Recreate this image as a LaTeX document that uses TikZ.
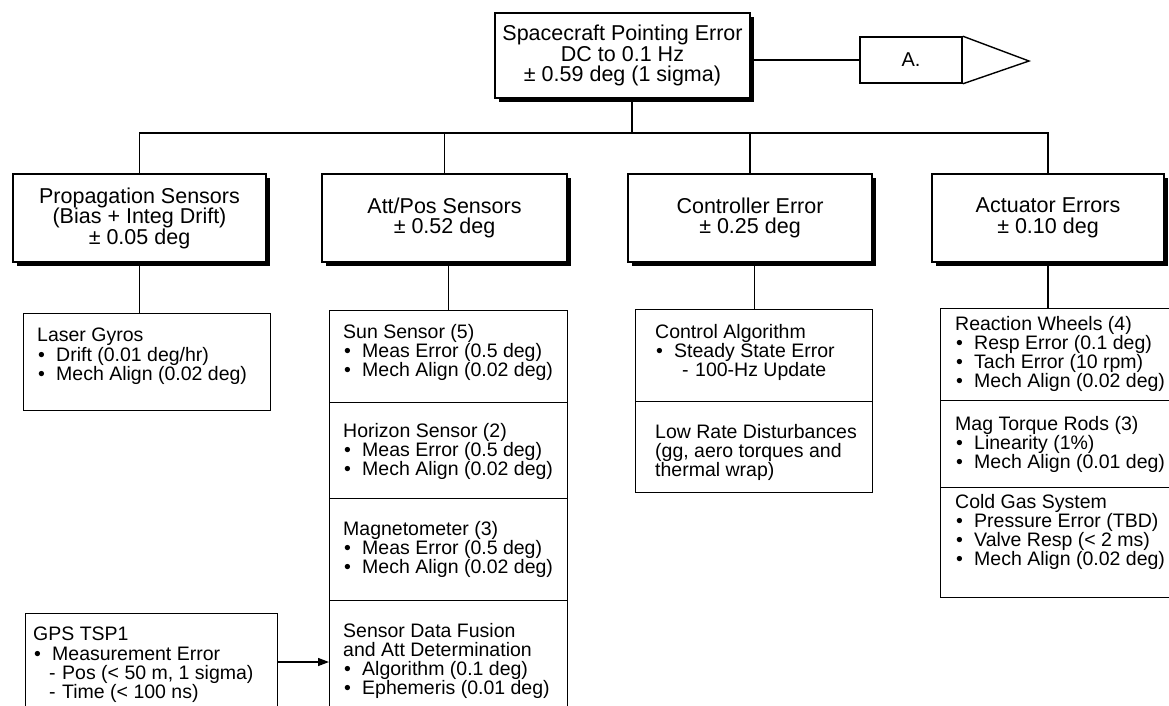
\documentclass[tikz,border=0pt]{standalone}
\usepackage{fontspec}
\setmainfont{Liberation Sans}
\usetikzlibrary{shadows,arrows.meta}
% list helpers: bullet item and dashed sub-item
\newcommand{\bi}[1]{\makebox[19pt][l]{\hspace{1pt}•}#1}
\newcommand{\di}[2]{\hspace{#1}\makebox[13pt][l]{-}#2}
\begin{document}
\begin{tikzpicture}[x=1pt,y=-1pt,
  hdr/.style={draw, line width=1.7pt, fill=white, inner sep=0pt, align=center,
    font=\fontsize{21.5}{20.5}\selectfont,
    drop shadow={shadow xshift=3.5pt, shadow yshift=-3.5pt, fill=black, opacity=1}},
  sect/.style={draw, line width=1.4pt, inner sep=0pt, anchor=north west},
  txt/.style={anchor=north west, inner sep=0pt, align=left,
    font=\fontsize{19.5}{19.2}\selectfont},
  wire/.style={line width=1.3pt},
]
\useasboundingbox (0,0) rectangle (1169,705);

% top level
\node[hdr, minimum width=255pt, minimum height=85pt] (T) at (622.5,55.5)
  {Spacecraft Pointing Error\\DC to 0.1 Hz\\± 0.59 deg (1 sigma)};
\node[draw, line width=1.6pt, minimum width=102pt, minimum height=46pt, inner sep=0pt,
  font=\fontsize{20}{20}\selectfont] (A) at (911,60) {A.};
\coordinate (Atip) at (1029,61);
\draw[line width=1.4pt, line join=miter] (A.north east) -- (Atip) -- (A.south east);
\draw[wire] (T.east |- A.west) -- (A.west);

% second level
\node[hdr, minimum width=253pt, minimum height=88pt] (P) at (139.5,218)
  {Propagation Sensors\\(Bias + Integ Drift)\\± 0.05 deg};
\node[hdr, minimum width=245pt, minimum height=88pt] (S) at (444.5,218)
  {Att/Pos Sensors\\± 0.52 deg};
\node[hdr, minimum width=244pt, minimum height=88pt] (C) at (750,218)
  {Controller Error\\± 0.25 deg};
\node[hdr, minimum width=232pt, minimum height=88pt] (R) at (1048,218)
  {Actuator Errors\\± 0.10 deg};

% distribution bus
\coordinate (bus) at (632,133);
\draw[wire] (T.south -| bus) -- (bus);
\draw[wire] (P.north) -- (P.north |- bus) -- (R.north |- bus) -- (R.north);
\draw[wire] (S.north |- bus) -- (S.north);
\draw[wire] (C.north |- bus) -- (C.north);

% propagation sensors
\node[sect, minimum width=247pt, minimum height=97pt] (LG) at (23,313) {};
\node[txt] at (37,328) {Laser Gyros\\\bi{Drift (0.01 deg/hr)}\\\bi{Mech Align (0.02 deg)}};

% attitude / position sensors
\node[sect, minimum width=238pt, minimum height=92pt] (SS) at (329,310) {};
\node[sect, minimum width=238pt, minimum height=96pt] (HS) at (329,402) {};
\node[sect, minimum width=238pt, minimum height=102pt] (MG) at (329,498) {};
\node[sect, minimum width=238pt, minimum height=130pt] (SF) at (329,600) {};
\node[txt] at (343,324) {Sun Sensor (5)\\\bi{Meas Error (0.5 deg)}\\\bi{Mech Align (0.02 deg)}};
\node[txt] at (343,423) {Horizon Sensor (2)\\\bi{Meas Error (0.5 deg)}\\\bi{Mech Align (0.02 deg)}};
\node[txt] at (343,521) {Magnetometer (3)\\\bi{Meas Error (0.5 deg)}\\\bi{Mech Align (0.02 deg)}};
\node[txt] at (343,623) {Sensor Data Fusion\\and Att Determination\\\bi{Algorithm (0.1 deg)}\\\bi{Ephemeris (0.01 deg)}};

% controller
\node[sect, minimum width=237pt, minimum height=92pt] (CA) at (635,309) {};
\node[sect, minimum width=237pt, minimum height=91pt] (LR) at (635,401) {};
\node[txt] at (655,324) {Control Algorithm\\\bi{Steady State Error}\\\di{27pt}{100-Hz Update}};
\node[txt] at (655,424) {Low Rate Disturbances\\(gg, aero torques and\\thermal wrap)};

% actuators
\node[sect, minimum width=232pt, minimum height=92pt] (RW) at (940,308) {};
\node[sect, minimum width=232pt, minimum height=87pt] (MT) at (940,400) {};
\node[sect, minimum width=232pt, minimum height=110pt] (CG) at (940,487) {};
\node[txt] at (955,316) {Reaction Wheels (4)\\\bi{Resp Error (0.1 deg)}\\\bi{Tach Error (10 rpm)}\\\bi{Mech Align (0.02 deg)}};
\node[txt] at (955,416) {Mag Torque Rods (3)\\\bi{Linearity (1\%)}\\\bi{Mech Align (0.01 deg)}};
\node[txt] at (955,494) {Cold Gas System\\\bi{Pressure Error (TBD)}\\\bi{Valve Resp (< 2 ms)}\\\bi{Mech Align (0.02 deg)}};

% GPS receiver
\node[sect, minimum width=252pt, minimum height=120pt] (GPS) at (25,613) {};
\node[txt] at (33,627) {GPS TSP1\\\bi{Measurement Error}\\\di{16pt}{Pos (< 50 m, 1 sigma)}\\\di{16pt}{Time (< 100 ns)}};

% second level to detail boxes
\draw[wire] (P.south) -- (P.south |- LG.north);
\draw[wire] (SS.north |- S.south) -- (SS.north);
\draw[wire] (CA.north |- C.south) -- (CA.north);
\draw[wire] (R.south) -- (R.south |- RW.north);

% GPS feed into attitude determination
\coordinate (feed) at (0,662);
\draw[wire, -{Triangle[length=11pt,width=8pt]}] (GPS.east |- feed) -- (SF.west |- feed);
\end{tikzpicture}
\end{document}
